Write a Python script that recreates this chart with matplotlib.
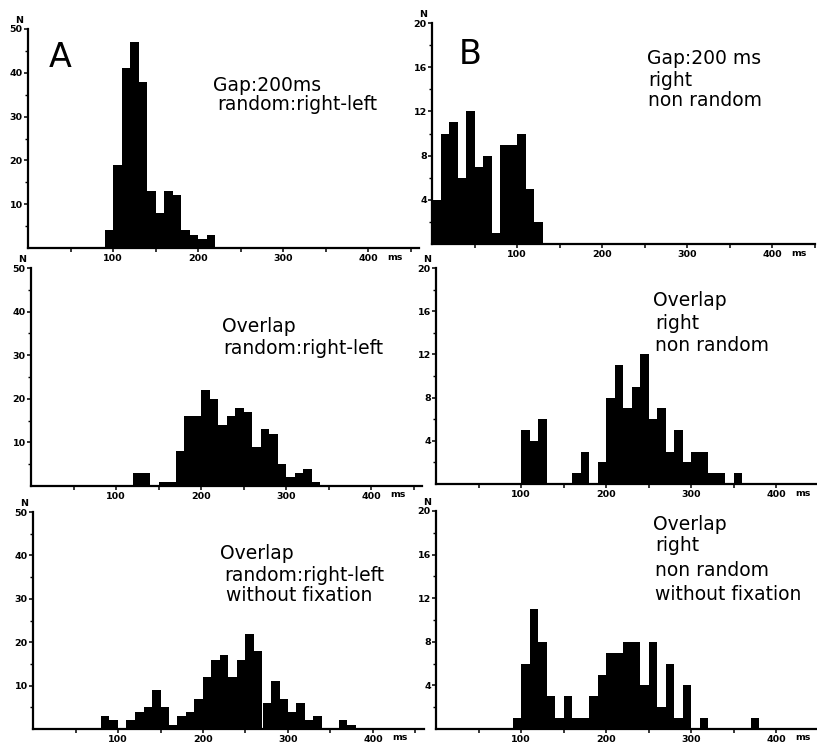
import matplotlib
matplotlib.use("Agg")
import matplotlib.pyplot as plt
from matplotlib.ticker import FixedLocator, NullFormatter

W, H = 817, 751
DPI = 100
BIN_MS = 10
PX_PER_MS = 0.85

# Saccadic reaction time histograms: start of first 10 ms bin and counts per bin
gap_rl_start = 90
gap_rl_counts = [4, 19, 41, 47, 38, 13, 8, 13, 12, 4, 3, 2, 3]

gap_right_start = 0
gap_right_counts = [4, 10, 11, 6, 12, 7, 8, 1, 9, 9, 10, 5, 2]

overlap_rl_start = 120
overlap_rl_counts = [3, 3, 0, 1, 1, 8, 16, 16, 22, 20, 14, 16, 18, 17, 9, 13,
                     12, 5, 2, 3, 4, 1]

overlap_right_start = 100
overlap_right_counts = [5, 4, 6, 0, 0, 0, 1, 3, 0, 2, 8, 11, 7, 9, 12, 6, 7, 3,
                        5, 2, 3, 3, 1, 1, 0, 1]

nofix_rl_start = 80
nofix_rl_counts = [3, 2, 0, 2, 4, 5, 9, 5, 1, 3, 4, 7, 12, 16, 17, 12, 16, 22,
                   18, 6, 11, 7, 4, 6, 2, 3, 0, 0, 2, 1]

nofix_right_start = 90
nofix_right_counts = [1, 6, 11, 8, 3, 1, 3, 1, 1, 3, 5, 7, 7, 8, 8, 4, 8, 2, 6,
                      1, 4, 0, 1, 0, 0, 0, 0, 0, 1]

x_tick_labels = ["100", "200", "300", "400"]

panel_texts = {
    "gap_rl": ["Gap:200ms", "random:right-left"],
    "gap_right": ["Gap:200 ms", "right", "non random"],
    "overlap_rl": ["Overlap", "random:right-left"],
    "overlap_right": ["Overlap", "right", "non random"],
    "nofix_rl": ["Overlap", "random:right-left", "without fixation"],
    "nofix_right": ["Overlap", "right", "non random", "without fixation"],
}

fig = plt.figure(figsize=(W / DPI, H / DPI), dpi=DPI)
fig.patch.set_facecolor("white")

TICK_FS = 6.8
TEXT_FS = 13.5


def ftext(x, y, s, **kw):
    """Place text using pixel coordinates measured from the top-left corner."""
    fig.text(x / W, 1 - y / H, s, **kw)


def panel(x0, y_top, y_base, xmax, ymax, ystep, start, counts):
    ax = fig.add_axes([x0 / W, 1 - y_base / H, xmax * PX_PER_MS / W,
                       (y_base - y_top) / H])
    edges = [start + i * BIN_MS for i in range(len(counts))]
    ax.bar(edges, counts, width=BIN_MS, align="edge", color="black",
           linewidth=0)
    ax.set_xlim(0, xmax)
    ax.set_ylim(0, ymax)
    for side in ("top", "right"):
        ax.spines[side].set_visible(False)
    for side in ("left", "bottom"):
        ax.spines[side].set_linewidth(1.6)
        ax.spines[side].set_capstyle("projecting")

    # y axis: labelled major ticks, unlabelled ticks halfway between
    yt = [ystep * k for k in range(1, int(ymax / ystep) + 1)]
    ax.yaxis.set_major_locator(FixedLocator(yt))
    ax.set_yticklabels([str(v) for v in yt])
    ax.yaxis.set_minor_locator(FixedLocator([v - ystep / 2 for v in yt]))
    ax.tick_params(axis="y", which="major", direction="out", length=3.2,
                   width=1.1, pad=0.6, labelsize=TICK_FS)
    ax.tick_params(axis="y", which="minor", direction="out", length=2.4,
                   width=1.0)

    # x axis: ticks every 50 ms, labels every 100 ms
    ax.xaxis.set_major_locator(FixedLocator([100, 200, 300, 400]))
    ax.set_xticklabels(x_tick_labels)
    ax.xaxis.set_minor_locator(FixedLocator([50, 150, 250, 350, 450]))
    ax.xaxis.set_minor_formatter(NullFormatter())
    ax.tick_params(axis="x", which="both", direction="out", length=3.2,
                   width=1.1, pad=1.2, labelsize=TICK_FS)
    for lab in ax.get_xticklabels() + ax.get_yticklabels():
        lab.set_fontweight("bold")

    # axis captions
    ftext(x0 - 5, y_top - 4, "N", fontsize=TICK_FS, fontweight="bold",
          ha="right", va="bottom")
    ftext(x0 + 400 * PX_PER_MS + 19, y_base + 4.5, "ms", fontsize=TICK_FS,
          fontweight="bold", ha="left", va="top")
    return ax


axA1 = panel(28, 29, 248, 460, 50, 10, gap_rl_start, gap_rl_counts)
axB1 = panel(432, 23, 244, 450, 20, 4, gap_right_start, gap_right_counts)
axA2 = panel(31, 268, 486, 460, 50, 10, overlap_rl_start, overlap_rl_counts)
axB2 = panel(436, 268, 484, 450, 20, 4, overlap_right_start,
             overlap_right_counts)
axA3 = panel(33, 512, 729, 460, 50, 10, nofix_rl_start, nofix_rl_counts)
axB3 = panel(436, 511, 729, 450, 20, 4, nofix_right_start, nofix_right_counts)

# panel letters
ftext(49, 41, "A", fontsize=24, ha="left", va="top")
ftext(459, 38, "B", fontsize=24, ha="left", va="top")

# condition labels: (x, top-of-line y) for each line
label_layout = {
    "gap_rl": [(213, 76), (217, 95)],
    "gap_right": [(647, 49), (648, 71), (648, 91)],
    "overlap_rl": [(222, 317), (223, 339)],
    "overlap_right": [(653, 291), (655, 314), (655, 336)],
    "nofix_rl": [(220, 544), (224, 566), (226, 586)],
    "nofix_right": [(653, 515), (655, 536), (655, 561), (655, 585)],
}
for key, lines in panel_texts.items():
    for (x, y), s in zip(label_layout[key], lines):
        ftext(x, y, s, fontsize=TEXT_FS, ha="left", va="top")

fig.savefig("out.png", dpi=DPI, facecolor="white")
